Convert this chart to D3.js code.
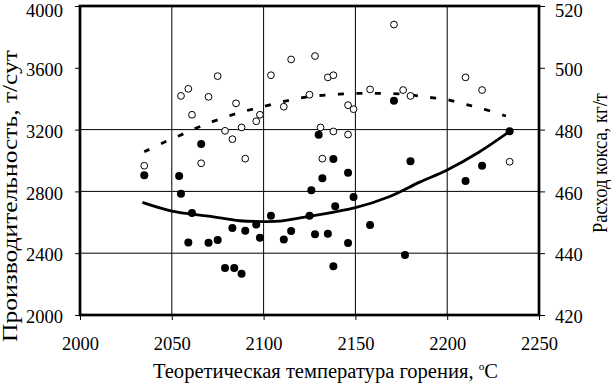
<!DOCTYPE html>
<html>
<head>
<meta charset="utf-8">
<script src="https://cdn.jsdelivr.net/npm/d3@7"></script>
<style>
  body { margin: 0; background: #fff; }
  svg text { font-family: "Liberation Serif", "Times New Roman", serif; fill: #000; }
</style>
</head>
<body>
<div id="chart"></div>
<script>
// productivity (filled dots, left axis)
const prodTemp = [2035, 2054, 2055, 2059, 2061, 2066, 2070, 2075, 2079, 2083, 2084, 2088, 2090, 2096, 2098, 2104, 2111, 2115, 2125, 2126, 2128, 2130, 2132, 2135, 2138, 2138, 2139, 2146, 2146, 2149, 2158, 2171, 2177, 2180, 2210, 2219, 2234];
const prodValue = [2905, 2900, 2785, 2470, 2660, 3107, 2468, 2485, 2305, 2563, 2305, 2267, 2545, 2585, 2500, 2643, 2488, 2544, 2643, 2807, 2522, 3167, 2885, 2526, 3010, 2315, 2704, 2920, 2466, 2764, 2583, 3387, 2388, 2995, 2867, 2966, 3190];

// coke rate (open dots, right axis)
const cokeTemp = [2035, 2055, 2059, 2061, 2066, 2070, 2075, 2079, 2083, 2085, 2088, 2090, 2096, 2098, 2104, 2111, 2115, 2125, 2128, 2131, 2132, 2135, 2138, 2138, 2146, 2146, 2149, 2158, 2171, 2176, 2180, 2210, 2219, 2234];
const cokeValue = [468.3, 490.9, 493.2, 484.8, 469.1, 490.6, 497.3, 479.6, 476.9, 488.5, 480.7, 470.6, 482.7, 484.8, 497.6, 487.4, 502.7, 491.3, 503.8, 480.7, 470.6, 496.9, 497.6, 479.4, 478.4, 487.9, 486.6, 493.0, 514.0, 492.8, 490.9, 496.9, 492.8, 469.6];

// trend lines
const prodTrendTemp = [2034, 2050, 2070, 2087, 2100, 2109, 2125, 2150, 2168, 2185, 2200, 2217, 2234];
const prodTrendValue = [2729, 2673, 2640, 2610, 2605, 2608, 2639, 2695, 2764, 2860, 2939, 3052, 3189];
const cokeTrendTemp = [2035, 2047, 2057, 2067, 2078, 2088, 2098, 2108, 2118, 2128, 2138, 2148, 2158, 2168, 2179, 2189, 2199, 2209, 2219, 2232];
const cokeTrendValue = [472.8, 476.2, 478.8, 481.4, 483.8, 485.7, 487.2, 488.7, 490.0, 490.9, 491.3, 491.7, 491.7, 491.7, 491.3, 490.5, 489.8, 488.3, 486.8, 484.4];

const xTicks = [2000, 2050, 2100, 2150, 2200, 2250];
const leftTicks = [2000, 2400, 2800, 3200, 3600, 4000];
const rightTicks = [420, 440, 460, 480, 500, 520];
const xGrid = [2050, 2100, 2150, 2200];
const yGrid = [2400, 2800, 3200];

const xTitle = "Теоретическая температура горения, ";
const leftTitle = "Производительность, т/сут";
const rightTitle = "Расход кокса, кг/т";

const W = 611, H = 392;
const plot = { left: 80, right: 539, top: 6, bottom: 315 };

const xScale = d3.scaleLinear().domain([2000, 2250]).range([plot.left, plot.right]);
const yLeft = d3.scaleLinear().domain([2000, 4000]).range([plot.bottom, plot.top]);
const yRight = d3.scaleLinear().domain([420, 520]).range([plot.bottom, plot.top]);

const svg = d3.select("#chart").append("svg").attr("width", W).attr("height", H);

function drawGrid() {
  const g = svg.append("g").attr("stroke", "#000").attr("stroke-width", 1);
  g.selectAll(".vg").data(xGrid).enter().append("line")
    .attr("x1", (d) => xScale(d)).attr("x2", (d) => xScale(d))
    .attr("y1", plot.top).attr("y2", plot.bottom);
  g.selectAll(".hg").data(yGrid).enter().append("line")
    .attr("x1", plot.left).attr("x2", plot.right)
    .attr("y1", (d) => yLeft(d)).attr("y2", (d) => yLeft(d));
}

function drawAxes() {
  const fs = "18.5px";
  const xAxis = d3.axisBottom(xScale).tickValues(xTicks).tickSize(5).tickPadding(17).tickFormat(d3.format("d"));
  const gx = svg.append("g").attr("transform", `translate(0,${plot.bottom})`).call(xAxis);

  const lAxis = d3.axisLeft(yLeft).tickValues(leftTicks).tickSize(5).tickPadding(12).tickFormat(d3.format("d"));
  const gl = svg.append("g").attr("transform", `translate(${plot.left},0)`).call(lAxis);

  const rAxis = d3.axisRight(yRight).tickValues(rightTicks).tickSize(6).tickPadding(10);
  const gr = svg.append("g").attr("transform", `translate(${plot.right},0)`).call(rAxis);

  [gx, gl, gr].forEach((g) => {
    g.select(".domain").remove();
    g.selectAll("line").attr("stroke", "#000");
    g.selectAll("text").style("font-size", fs).style("font-family", '"Liberation Serif", serif');
  });
  // labels sit a little below their ticks in the original; keep the top ones inside the page
  gl.selectAll("text").attr("dy", (d) => (d === 4000 ? "0.58em" : "0.42em"));
  gr.selectAll("text").attr("dy", (d) => (d === 520 ? "0.58em" : "0.42em"));

  // thick frame
  svg.append("rect")
    .attr("x", plot.left).attr("y", plot.top)
    .attr("width", plot.right - plot.left).attr("height", plot.bottom - plot.top)
    .attr("fill", "none").attr("stroke", "#000").attr("stroke-width", 2.7);
}

function drawTrends() {
  const solid = d3.line()
    .x((d, i) => xScale(prodTrendTemp[i]))
    .y((d) => yLeft(d))
    .curve(d3.curveCatmullRom);
  svg.append("path").attr("d", solid(prodTrendValue))
    .attr("fill", "none").attr("stroke", "#000").attr("stroke-width", 2.8);

  const dashed = d3.line()
    .x((d, i) => xScale(cokeTrendTemp[i]))
    .y((d) => yRight(d))
    .curve(d3.curveCatmullRom);
  svg.append("path").attr("d", dashed(cokeTrendValue))
    .attr("fill", "none").attr("stroke", "#000").attr("stroke-width", 2.8)
    .attr("stroke-dasharray", "6,12.5");
}

function drawPoints() {
  svg.append("g").selectAll("circle").data(cokeValue).enter().append("circle")
    .attr("cx", (d, i) => xScale(cokeTemp[i]))
    .attr("cy", (d) => yRight(d))
    .attr("r", 3.4)
    .attr("fill", "#fff").attr("stroke", "#000").attr("stroke-width", 1);

  svg.append("g").selectAll("circle").data(prodValue).enter().append("circle")
    .attr("cx", (d, i) => xScale(prodTemp[i]))
    .attr("cy", (d) => yLeft(d))
    .attr("r", 4)
    .attr("fill", "#000");
}

function drawTitles() {
  const t = svg.append("text").attr("x", 153).attr("y", 378)
    .attr("textLength", 345).attr("lengthAdjust", "spacingAndGlyphs")
    .style("font-size", "20px");
  t.append("tspan").text(xTitle);
  t.append("tspan").attr("dy", -8).style("font-size", "11px").text("o");
  t.append("tspan").attr("dy", 8).text("C");

  svg.append("text")
    .attr("transform", "translate(17,196) rotate(-90)")
    .attr("text-anchor", "middle")
    .attr("textLength", 292).attr("lengthAdjust", "spacingAndGlyphs")
    .style("font-size", "20px")
    .text(leftTitle);

  svg.append("text")
    .attr("transform", "translate(606.5,163) rotate(-90)")
    .attr("text-anchor", "middle")
    .attr("textLength", 140).attr("lengthAdjust", "spacingAndGlyphs")
    .style("font-size", "20px")
    .text(rightTitle);
}

drawGrid();
drawTrends();
drawPoints();
drawAxes();
drawTitles();
</script>
</body>
</html>
